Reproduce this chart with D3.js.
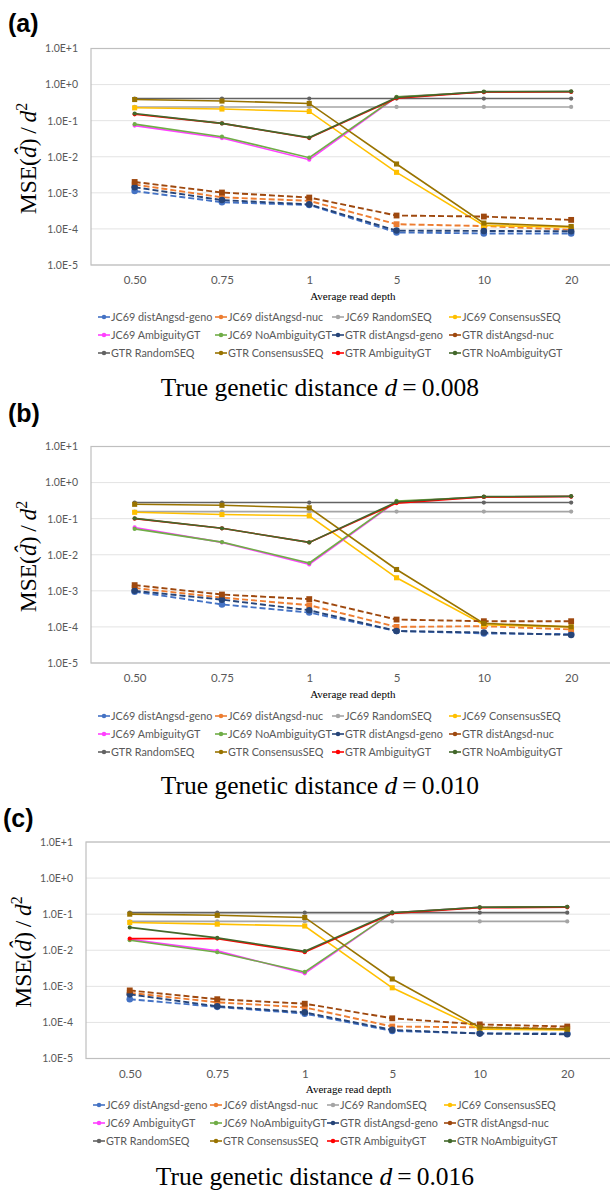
<!DOCTYPE html>
<html>
<head>
<meta charset="utf-8">
<script src="https://cdn.jsdelivr.net/npm/d3@7"></script>
<style>
  body { margin: 0; background: #fff; }
  svg { display: block; }
  .tick text { fill: #595959; font-family: Lato, "Liberation Sans", sans-serif; }
</style>
</head>
<body>
<svg id="chart" width="610" height="1194"></svg>
<script>
// categories and series
var depths = ["0.50", "0.75", "1", "5", "10", "20"];
var yTicks = [1e-5, 1e-4, 1e-3, 1e-2, 1e-1, 1e0, 1e1];
var seriesNames = [
  "JC69 distAngsd-geno", "JC69 distAngsd-nuc", "JC69 RandomSEQ", "JC69 ConsensusSEQ",
  "JC69 AmbiguityGT", "JC69 NoAmbiguityGT", "GTR distAngsd-geno", "GTR distAngsd-nuc",
  "GTR RandomSEQ", "GTR ConsensusSEQ", "GTR AmbiguityGT", "GTR NoAmbiguityGT"
];
var trueDistances = ["0.008", "0.010", "0.016"];
var panelLabels = ["(a)", "(b)", "(c)"];

// values, one row per series (same order as seriesNames)
var valuesA = [
  [1.12e-3, 5.5e-4, 4.6e-4, 8.0e-5, 7.5e-5, 7.5e-5],
  [1.7e-3, 7.5e-4, 6.0e-4, 1.35e-4, 1.2e-4, 9.5e-5],
  [0.24, 0.24, 0.24, 0.24, 0.24, 0.24],
  [0.227, 0.21, 0.18, 0.0037, 1.25e-4, 1.12e-4],
  [0.073, 0.033, 0.0083, 0.45, 0.62, 0.63],
  [0.08, 0.036, 0.0094, 0.46, 0.62, 0.63],
  [1.43e-3, 6.3e-4, 4.8e-4, 9.0e-5, 8.8e-5, 8.6e-5],
  [2.0e-3, 1.02e-3, 7.4e-4, 2.35e-4, 2.2e-4, 1.78e-4],
  [0.41, 0.41, 0.41, 0.41, 0.41, 0.41],
  [0.385, 0.35, 0.30, 0.0063, 1.45e-4, 1.17e-4],
  [0.15, 0.084, 0.033, 0.42, 0.62, 0.63],
  [0.158, 0.084, 0.034, 0.44, 0.64, 0.65]
];
var valuesB = [
  [9.5e-4, 4.2e-4, 2.5e-4, 7.7e-5, 6.6e-5, 6.3e-5],
  [1.2e-3, 6.5e-4, 4.0e-4, 1.0e-4, 1.05e-4, 8.5e-5],
  [0.157, 0.157, 0.157, 0.157, 0.157, 0.157],
  [0.15, 0.13, 0.12, 0.0023, 1.15e-4, 1.0e-4],
  [0.057, 0.022, 0.0054, 0.30, 0.40, 0.41],
  [0.052, 0.0224, 0.0059, 0.31, 0.40, 0.41],
  [1.0e-3, 5.7e-4, 2.9e-4, 7.7e-5, 7.0e-5, 6.0e-5],
  [1.44e-3, 7.9e-4, 5.9e-4, 1.6e-4, 1.44e-4, 1.44e-4],
  [0.28, 0.28, 0.28, 0.28, 0.28, 0.28],
  [0.25, 0.235, 0.20, 0.0039, 1.25e-4, 1.0e-4],
  [0.10, 0.054, 0.022, 0.27, 0.40, 0.41],
  [0.102, 0.054, 0.022, 0.29, 0.41, 0.42]
];
var valuesC = [
  [4.4e-4, 2.7e-4, 1.75e-4, 5.8e-5, 5.0e-5, 4.9e-5],
  [6.6e-4, 3.6e-4, 2.6e-4, 7.7e-5, 7.3e-5, 6.8e-5],
  [0.063, 0.063, 0.063, 0.063, 0.063, 0.063],
  [0.059, 0.053, 0.047, 9.1e-4, 6.5e-5, 6.2e-5],
  [0.020, 0.0096, 0.0023, 0.11, 0.155, 0.16],
  [0.019, 0.0088, 0.0025, 0.11, 0.155, 0.16],
  [6.0e-4, 2.8e-4, 1.9e-4, 6.2e-5, 4.9e-5, 4.7e-5],
  [7.7e-4, 4.4e-4, 3.3e-4, 1.3e-4, 8.8e-5, 7.7e-5],
  [0.11, 0.11, 0.11, 0.11, 0.11, 0.11],
  [0.10, 0.093, 0.081, 0.0016, 7.3e-5, 6.5e-5],
  [0.021, 0.021, 0.0088, 0.105, 0.15, 0.155],
  [0.043, 0.022, 0.0094, 0.11, 0.155, 0.16]
];

// styles
var colors = ["#4472C4", "#ED7D31", "#A5A5A5", "#FFC000", "#FF40FF", "#70AD47",
              "#264478", "#9E480E", "#636363", "#997300", "#FF0000", "#43682B"];
var dashed = [true, true, false, false, false, false, true, true, false, false, false, false];
var shapes = ["circle", "square", "circle", "square", "circle", "circle",
              "circle", "square", "circle", "square", "circle", "circle"];

var svg = d3.select("#chart");
svg.append("rect").attr("width", 610).attr("height", 1194).attr("fill", "#fff");

//---------------------------------------
function drawPanel(values, i, lay) {
  var band = lay.band, plotH = 216.5;
  var x = d3.scalePoint().domain(depths)
      .range([lay.left, lay.left + band * depths.length]).padding(0.5);
  var y = d3.scaleLog().domain([1e-5, 10]).range([lay.top + plotH, lay.top]);

  var g = svg.append("g");

  // panel letter
  g.append("text")
    .attr("x", lay.left - 83).attr("y", lay.labelY + 9)
    .attr("font-family", "Liberation Sans, Arial, sans-serif")
    .attr("font-weight", "bold").attr("font-size", 25)
    .text(panelLabels[i]);

  // gridlines
  g.append("g").selectAll("line")
    .data(yTicks)
    .enter().append("line")
    .attr("x1", lay.left).attr("x2", lay.left + band * 6 + 2)
    .attr("y1", function(d) { return y(d); })
    .attr("y2", function(d) { return y(d); })
    .attr("stroke", "#E3E3E3").attr("stroke-width", 1);

  // frame
  g.append("rect")
    .attr("x", lay.left).attr("y", lay.top)
    .attr("width", band * 6 + 2).attr("height", plotH)
    .attr("fill", "none").attr("stroke", "#BFBFBF").attr("stroke-width", 1.2);

  // y axis
  var ya = g.append("g")
    .attr("transform", "translate(" + lay.left + ",0)")
    .call(d3.axisLeft(y).tickValues(yTicks).tickSize(0).tickPadding(13)
      .tickFormat(function(d) { return d.toExponential(1).toUpperCase(); }));
  ya.select(".domain").remove();
  ya.selectAll("text").attr("font-size", 10.5);

  // x axis
  var xa = g.append("g")
    .attr("transform", "translate(0," + (lay.top + plotH) + ")")
    .call(d3.axisBottom(x).tickSize(0).tickPadding(11));
  xa.select(".domain").remove();
  xa.selectAll("text").attr("font-size", 11.5);

  g.append("text")
    .attr("x", lay.left + band * 3).attr("y", lay.top + plotH + 34.5)
    .attr("text-anchor", "middle")
    .attr("font-family", "Liberation Serif, Times New Roman, serif")
    .attr("font-size", 11)
    .text("Average read depth");

  // y title
  var yt = g.append("text")
    .attr("transform", "translate(" + (lay.left - 55) + "," + (lay.top + 110) + ") rotate(-90)")
    .attr("text-anchor", "middle")
    .attr("font-family", "Liberation Serif, Times New Roman, serif")
    .attr("font-size", 23.5);
  yt.append("tspan").text("MSE(");
  yt.append("tspan").attr("font-style", "italic").text("d\u0302");
  yt.append("tspan").text(")\u2009/\u2009");
  yt.append("tspan").attr("font-style", "italic").text("d");
  yt.append("tspan").attr("font-size", 16).attr("dy", -9).text("2");

  // series lines
  var line = d3.line()
      .x(function(d, j) { return x(depths[j]); })
      .y(function(d) { return y(d); });

  values.forEach(function(vals, k) {
    var s = g.append("g");
    s.append("path")
      .datum(vals)
      .attr("d", line)
      .attr("fill", "none")
      .attr("stroke", colors[k])
      .attr("stroke-width", dashed[k] ? 1.9 : 1.6)
      .attr("stroke-dasharray", dashed[k] ? "6,3" : null);
    var sym = d3.symbol()
      .type(shapes[k] === "square" ? d3.symbolSquare : d3.symbolCircle)
      .size(dashed[k] ? 34 : (shapes[k] === "square" ? 26 : 14));
    s.selectAll("path.pt")
      .data(vals)
      .enter().append("path")
      .attr("class", "pt")
      .attr("d", sym)
      .attr("transform", function(d, j) { return "translate(" + x(depths[j]) + "," + y(d) + ")"; })
      .attr("fill", colors[k]);
  });

  // legend
  var leg = g.append("g");
  seriesNames.forEach(function(name, k) {
    var lx = lay.left + 7 + (k % 4) * 117;
    var ly = lay.legendY + Math.floor(k / 4) * 18;
    leg.append("line")
      .attr("x1", lx).attr("x2", lx + 12).attr("y1", ly).attr("y2", ly)
      .attr("stroke", colors[k]).attr("stroke-width", 1.6);
    leg.append("path")
      .attr("d", d3.symbol().type(d3.symbolCircle).size(16))
      .attr("transform", "translate(" + (lx + 6) + "," + ly + ")")
      .attr("fill", colors[k]);
    leg.append("text")
      .attr("x", lx + 13).attr("y", ly + 4)
      .attr("font-family", "Lato, Liberation Sans, sans-serif")
      .attr("font-size", 10.8)
      .attr("fill", "#595959")
      .text(name);
  });

  // caption
  var cap = g.append("text")
    .attr("x", lay.left + 229).attr("y", lay.captionY + 8)
    .attr("text-anchor", "middle")
    .attr("font-family", "Liberation Serif, Times New Roman, serif")
    .attr("font-size", 25.5);
  cap.append("tspan").text("True genetic distance ");
  cap.append("tspan").attr("font-style", "italic").text("d");
  cap.append("tspan").text("\u2009=\u2009" + trueDistances[i]);
}

//---------------------------------------
drawPanel(valuesA, 0, {left: 91, top: 48.5, band: 87.3, labelY: 23, legendY: 317, captionY: 388});
drawPanel(valuesB, 1, {left: 91, top: 446.5, band: 87.3, labelY: 413, legendY: 716, captionY: 786});
drawPanel(valuesC, 2, {left: 86, top: 842, band: 87.5, labelY: 818, legendY: 1105, captionY: 1177});
</script>
</body>
</html>
